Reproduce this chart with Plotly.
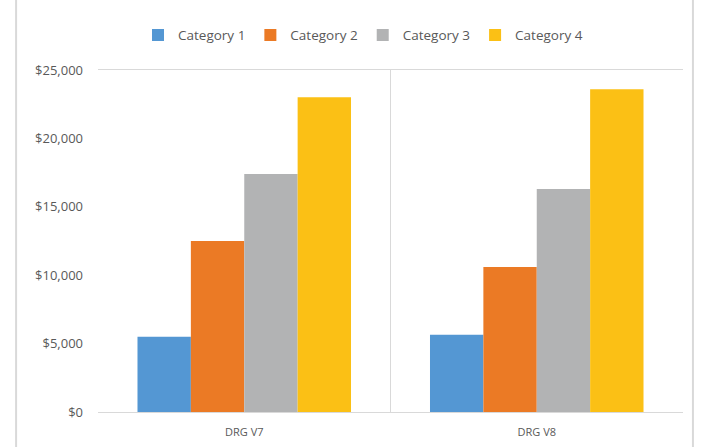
import plotly.graph_objects as go

groups = ["DRG V7", "DRG V8"]
series_names = ["Category 1", "Category 2", "Category 3", "Category 4"]
cat1 = [5500, 5650]
cat2 = [12500, 10600]
cat3 = [17400, 16300]
cat4 = [23000, 23600]
colors = ["#5497D3", "#EB7A25", "#B2B3B4", "#FBC015"]
y_ticks = [0, 5000, 10000, 15000, 20000, 25000]
y_tick_labels = ["$0", "$5,000", "$10,000", "$15,000", "$20,000", "$25,000"]

fig = go.Figure()
for name, vals, col in zip(series_names, [cat1, cat2, cat3, cat4], colors):
    fig.add_trace(go.Bar(name=name, x=groups, y=vals, marker=dict(color=col, line=dict(width=0))))

font_family = "Open Sans, Liberation Sans, sans-serif"
fig.update_layout(
    width=702, height=447,
    margin=dict(l=98, r=19, t=70, b=35, autoexpand=False),
    paper_bgcolor="white", plot_bgcolor="white",
    barmode="group", bargap=0.27, bargroupgap=0,
    font=dict(family=font_family, size=12, color="#595959"),
    showlegend=True,
    legend=dict(orientation="h", x=0.453, xanchor="center", y=1.102, yanchor="middle",
                font=dict(size=13.5, color="#595959"), itemwidth=30, traceorder="normal",
                tracegroupgap=0),
    xaxis=dict(showline=True, linecolor="#D9D9D9", linewidth=1, tickson="boundaries",
               showgrid=True, gridcolor="#D9D9D9", ticks="", mirror=True, automargin=False,
               tickfont=dict(size=11, color="#595959"), ticklabelstandoff=10),
    yaxis=dict(range=[0, 25000], tickvals=y_ticks, ticktext=y_tick_labels, automargin=False,
               showgrid=False, zeroline=False, showline=False,
               tickfont=dict(size=13, color="#595959"), ticklabelstandoff=14),
    shapes=[
        dict(type="line", xref="paper", yref="paper", x0=-0.140, x1=-0.140, y0=-0.2, y1=1.3,
             line=dict(color="#D9D9D9", width=2)),
        dict(type="line", xref="paper", yref="paper", x0=1.017, x1=1.017, y0=-0.2, y1=1.3,
             line=dict(color="#D9D9D9", width=2)),
    ],
)
fig.write_html("out.html", config={"displayModeBar": False},
               post_script="document.body.style.margin='0px';")
